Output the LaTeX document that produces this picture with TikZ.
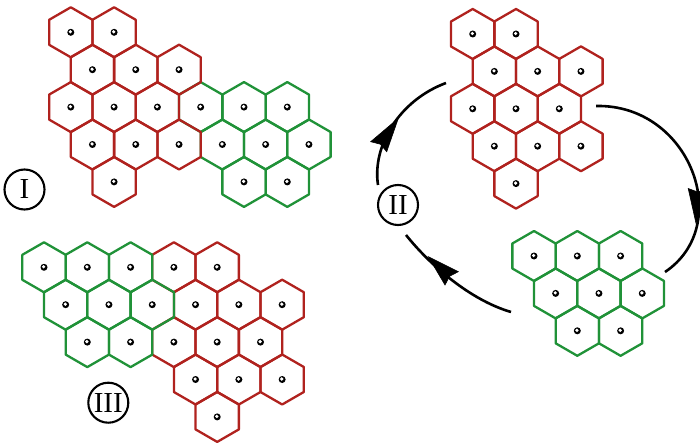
\documentclass[tikz,border=0pt]{standalone}
\usepackage{fontspec}
\setmainfont{Liberation Serif}
\definecolor{hexred}{RGB}{176,34,30}
\definecolor{hexgreen}{RGB}{32,146,56}
\tikzset{
  hexline/.style={line width=2.3pt, line join=round},
  roman/.style={draw=black, circle, line width=2.1pt, minimum size=40pt, inner sep=0pt, font=\fontsize{29}{32}\selectfont},
  cyclearc/.style={line width=2.6pt, draw=black},
  headfill/.style={fill=black, draw=black, line width=0.6pt, line join=miter},
}
\newcommand\hexgroup[4]{%
  \foreach \r/\c in {#4}{%
    \pgfmathsetmacro\hx{#1+\c*43.3+mod(\r,2)*21.65}%
    \pgfmathsetmacro\hy{#2+\r*37.4}%
    \draw[hexline,draw=#3] (\hx,\hy) +(90:25pt) -- +(30:25pt) -- +(-30:25pt) -- +(-90:25pt) -- +(-150:25pt) -- +(150:25pt) -- cycle;
    \fill[black] (\hx,\hy) circle[radius=3.5pt];
    \fill[white] (\hx-0.4,\hy-0.5) circle[radius=1.8pt];
  }%
}
\begin{document}
\begin{tikzpicture}[x=1pt,y=-1pt]
\useasboundingbox (0,0) rectangle (700,443);
% Group I
\hexgroup{70.8}{32.3}{hexgreen}{2/3,2/4,2/5,3/3,3/4,3/5,4/4,4/5}
\hexgroup{70.8}{32.3}{hexred}{0/0,0/1,1/0,1/1,1/2,2/0,2/1,2/2,3/0,3/1,3/2,4/1}
% Group III
\hexgroup{44}{267.3}{hexred}{0/3,0/4,1/3,1/4,1/5,2/3,2/4,2/5,3/3,3/4,3/5,4/4}
\hexgroup{44}{267.3}{hexgreen}{0/0,0/1,0/2,1/0,1/1,1/2,2/1,2/2}
% Group II
\hexgroup{472.7}{34}{hexred}{0/0,0/1,1/0,1/1,1/2,2/0,2/1,2/2,3/0,3/1,3/2,4/1}
% Green group
\hexgroup{534}{256}{hexgreen}{0/0,0/1,0/2,1/0,1/1,1/2,2/1,2/2}
% Labels
\node[roman] (lI) at (24.5,189.5) {I};
\node[roman] (lII) at (398,205) {II};
\node[roman] (lIII) at (108.3,402.7) {III};
% Cycle arcs
\coordinate (a1) at (378,185);
\coordinate (a2) at (446,83);
\coordinate (b1) at (596,106);
\coordinate (b2) at (665,272);
\coordinate (c1) at (511,312);
\coordinate (c2) at (406,235);
\draw[cyclearc] (a1) .. controls (372,145) and (400,100) .. (a2);
\draw[cyclearc] (b1) .. controls (690,104) and (735,225) .. (b2);
\draw[cyclearc] (c1) .. controls (470,300) and (430,265) .. (c2);
% Arrowheads
\coordinate (ha) at (398.3,118.3);
\coordinate (hb) at (696,223.3);
\coordinate (hc) at (428.3,256.7);
\filldraw[headfill] (ha) -- (370.7,141.7) -- (380.4,144.2) -- (386.7,151.7) -- cycle;
\filldraw[headfill] (hb) -- (707.2,189.5) -- (697.6,192) -- (688.2,188.5) -- cycle;
\filldraw[headfill] (hc) -- (458.3,271.7) -- (449.5,276.3) -- (445,285) -- cycle;
\end{tikzpicture}
\end{document}
